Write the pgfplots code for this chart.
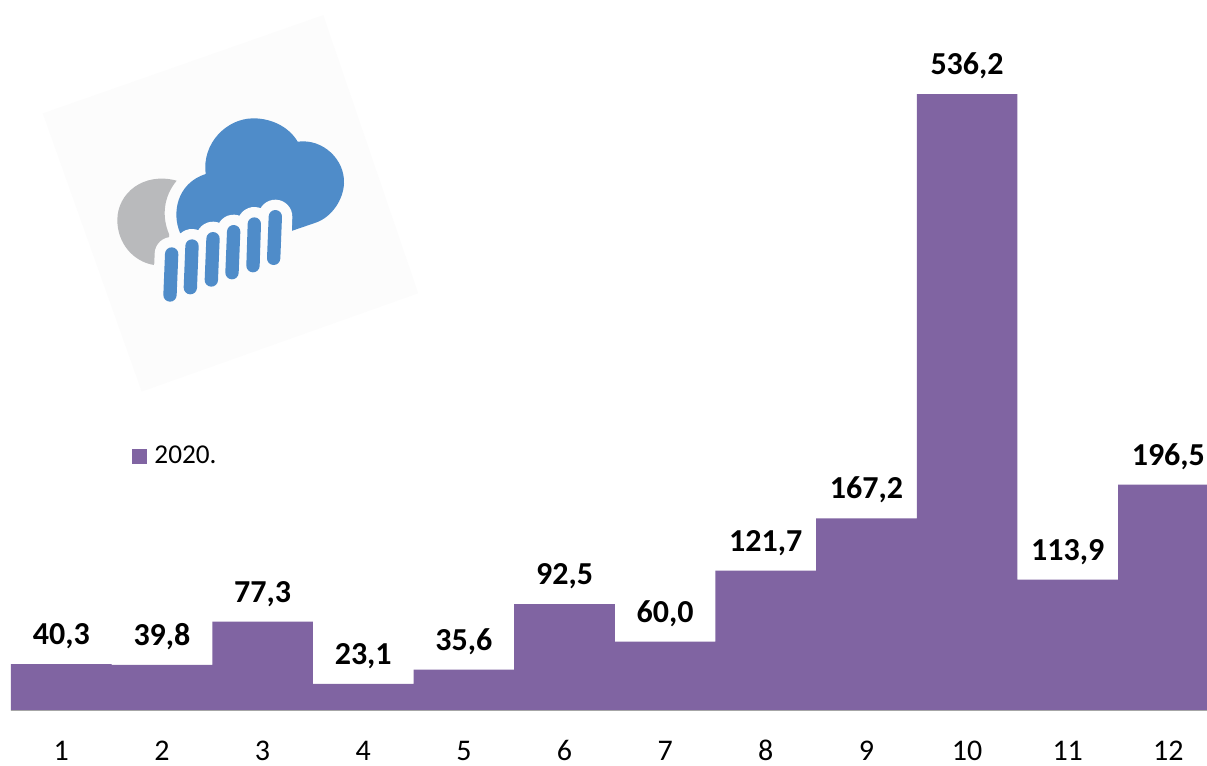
\documentclass[border=0pt]{standalone}
\usepackage{pgfplots}
\pgfplotsset{compat=1.18}
\usepackage{fontspec}
\setmainfont{Carlito}
\definecolor{barc}{HTML}{8064A2}
\definecolor{cloudc}{HTML}{4F8CC9}
\definecolor{moonc}{HTML}{B9BABC}
\definecolor{bgc}{HTML}{FCFCFC}
\begin{document}
\begin{tikzpicture}
\path[use as bounding box] (0pt,0pt) rectangle (905.25pt,-573.75pt);
% weather icon, coordinates are those of the 3x crop
\begin{scope}[shift={(22.5pt,-7.5pt)},x=.25pt,y=-.25pt]
\fill[bgc] (880,15) -- (38,310) -- (335,1145) -- (1165,850) -- cycle;
\fill[moonc] (440,512) .. controls (340,485) and (262,550) .. (262,630)
  .. controls (262,700) and (310,755) .. (372,765)
  -- (420,720) -- (417,672)
  .. controls (395,620) and (400,560) .. (440,512) -- cycle;
\fill[cloudc] (450,668) .. controls (425,610) and (440,520) .. (527,492)
  .. controls (515,400) and (590,325) .. (670,325)
  .. controls (730,325) and (780,355) .. (803,395)
  .. controls (880,385) and (945,450) .. (942,520)
  .. controls (940,570) and (905,620) .. (860,637)
  -- (787,662) -- (700,690) -- (480,700) -- cycle;
\draw[bgc,line width=25.5pt,line cap=round]
  (425,732) -- (420,855) (486,708) -- (481,833) (549,686) -- (544,810)
  (611,665) -- (606,788) (673,642) -- (669,767) (736,620) -- (731,745);
\draw[cloudc,line width=10pt,line cap=round]
  (425,732) -- (420,855) (486,708) -- (481,833) (549,686) -- (544,810)
  (611,665) -- (606,788) (673,642) -- (669,767) (736,620) -- (731,745);
\end{scope}
\begin{axis}[
  at={(8.25pt,-532.875pt)}, anchor=origin,
  scale only axis, width=897pt, height=532.875pt,
  xmin=0.5, xmax=12.384, ymin=0, ymax=618,
  ybar, bar width=75.48pt,
  axis on top,
  axis x line=bottom, axis y line=none,
  x axis line style={draw=gray!70,-,line width=.8pt},
  xtick={1,2,3,4,5,6,7,8,9,10,11,12},
  xticklabels={1,2,3,4,5,6,7,8,9,10,11,12},
  major tick length=0pt, tick style={draw=none},
  xticklabel style={anchor=base,inner sep=0pt,yshift=-37.5pt,font=\fontsize{22.5}{26}\selectfont},
  /pgf/number format/.cd,fixed,fixed zerofill,precision=1,use comma,assume math mode=true,
  /pgfplots/.cd,
  nodes near coords,
  nodes near coords style={anchor=base,yshift=14.6pt,inner sep=0pt,text=black,
    font=\fontsize{24}{28}\selectfont\bfseries},
  legend style={at={(0.101,0.358)},anchor=west,draw=none,fill=none,inner sep=0pt,
    font=\fontsize{20.4}{24}\selectfont,
    /tikz/every even column/.append style={column sep=0pt}},
  legend image code/.code={\fill[barc] (0pt,-5.6pt) rectangle (11.2pt,5.6pt);},
  legend cell align=left,
  legend style={nodes={inner xsep=5.6pt}},
]
\addplot[fill=barc,draw=none] coordinates {
 (1,40.3)(2,39.8)(3,77.3)(4,23.1)(5,35.6)(6,92.5)
 (7,60.0)(8,121.7)(9,167.2)(10,536.2)(11,113.9)(12,196.5)};
\addlegendentry{2020.}
\end{axis}
\end{tikzpicture}
\end{document}
